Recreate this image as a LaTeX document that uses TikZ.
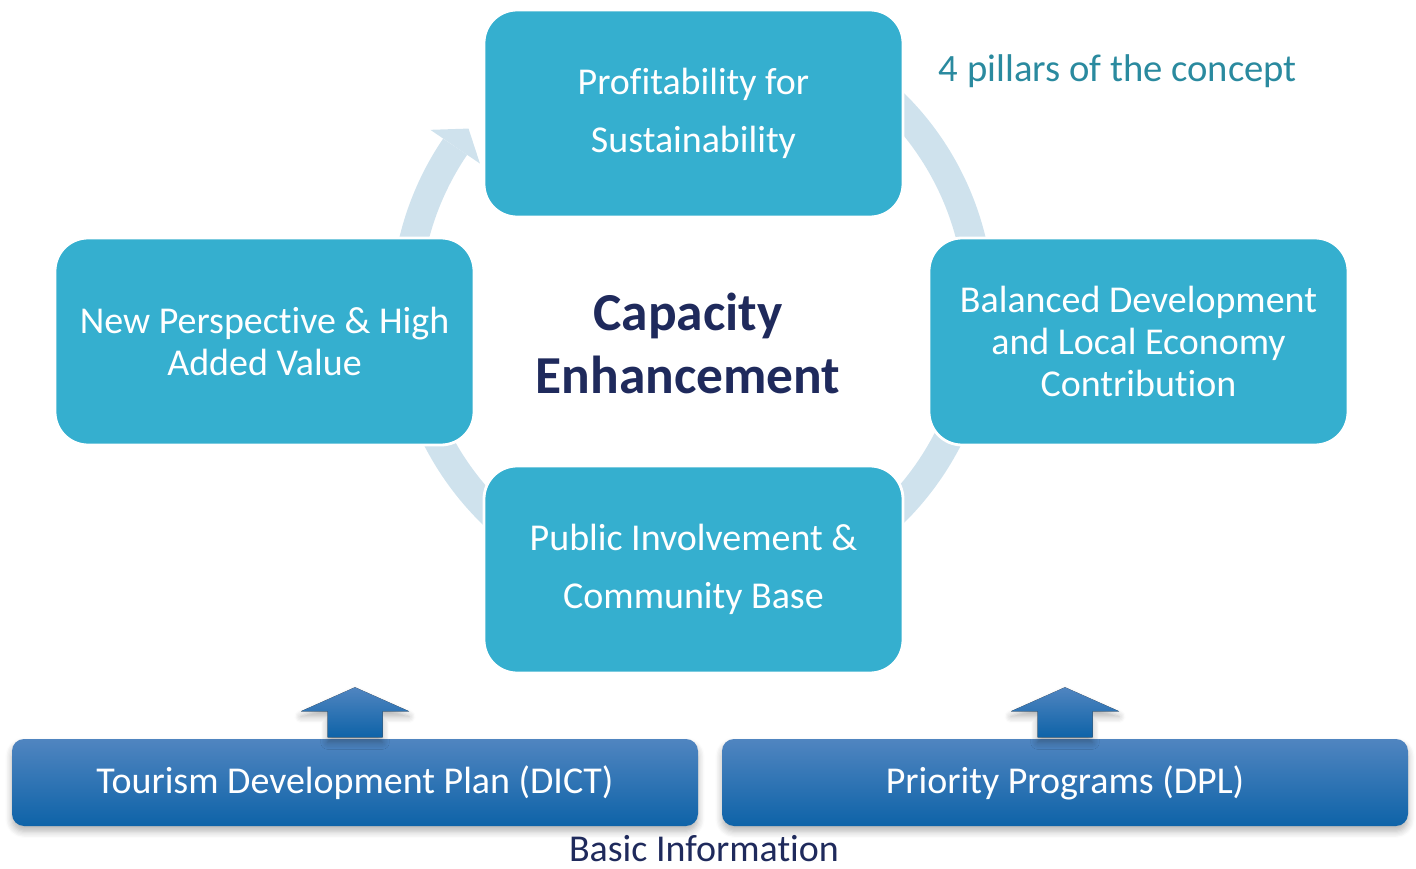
\documentclass[tikz,border=0pt]{standalone}
\usepackage{fontspec}
\setmainfont{Carlito}[Ligatures={NoCommon}]
\usepackage{xcolor}
\usetikzlibrary{calc,shadows.blur}
\definecolor{pillarblue}{RGB}{53,175,207}
\definecolor{ringblue}{RGB}{207,226,237}
\definecolor{navy}{RGB}{31,42,92}
\definecolor{conceptteal}{RGB}{42,138,159}
\definecolor{basetop}{RGB}{80,133,192}
\definecolor{basebot}{RGB}{14,99,168}

\begin{document}
\begin{tikzpicture}[
  pillar/.style={rounded corners=0.33cm,fill=pillarblue,draw=white,line width=0.8pt,
    minimum width=4.19cm,minimum height=2.07cm,text=white,align=center,inner sep=0pt},
  tall/.style={font=\fontsize{10.8}{16.5}\selectfont},
  flat/.style={font=\fontsize{10.8}{12}\selectfont},
  basebox/.style={rounded corners=0.12cm,top color=basetop,bottom color=basebot,
    minimum width=6.86cm,minimum height=0.87cm,text=white,font=\fontsize{10.8}{13}\selectfont,
    blur shadow={shadow xshift=0pt,shadow yshift=-1.5pt,shadow blur steps=6,shadow opacity=30}},
  uparrow/.style={top color=basetop,bottom color=basebot,
    blur shadow={shadow xshift=0pt,shadow yshift=-1.5pt,shadow blur steps=6,shadow opacity=30}}]
  \useasboundingbox (0,0) rectangle (14.16,8.68);
  % cycle behind the four pillars
  \coordinate (ctr) at (6.925,5.60);
  \draw[ringblue,line width=0.29cm] ($(ctr)+(60:2.87)$) arc[start angle=60,end angle=-214.2,radius=2.87cm];
  \fill[ringblue] ($(ctr)+(141.3:2.87)$) -- ($(ctr)+(145.8:3.17)$) -- ($(ctr)+(145.8:2.57)$) -- cycle;
  % the four pillars
  \node[pillar,tall] (profit) at (6.935,7.545) {Profitability for\\Sustainability};
  \node[pillar,flat] (newper) at (2.645,5.265) {New Perspective \& High\\Added Value};
  \node[pillar,flat] (balanced) at (11.385,5.265) {Balanced Development\\and Local Economy\\Contribution};
  \node[pillar,tall] (public) at (6.935,2.985) {Public Involvement \&\\Community Base};
  \node[font=\fontsize{15.2}{17.9}\selectfont\bfseries,text=navy,align=center] (capacity) at (6.88,5.245) {Capacity\\Enhancement};
  \node[anchor=base,text=conceptteal,font=\fontsize{11}{13}\selectfont] (concept) at (11.18,7.86) {4 pillars of the concept};
  % basic information
  \node[basebox] (tdp) at (3.55,0.855) {Tourism Development Plan (DICT)};
  \node[basebox] (dpl) at (10.65,0.855) {Priority Programs (DPL)};
  \foreach \b in {tdp,dpl}
    \fill[uparrow] ($(\b.north)+(-0.275,0.01)$) -- ($(\b.north)+(-0.275,0.27)$) -- ($(\b.north)+(-0.54,0.27)$)
      -- ($(\b.north)+(0,0.51)$) -- ($(\b.north)+(0.54,0.27)$) -- ($(\b.north)+(0.275,0.27)$)
      -- ($(\b.north)+(0.275,0.01)$) -- cycle;
  \node[anchor=base,text=navy,font=\fontsize{10.8}{13}\selectfont] (basic) at (7.04,0.07) {Basic Information};
\end{tikzpicture}
\end{document}
